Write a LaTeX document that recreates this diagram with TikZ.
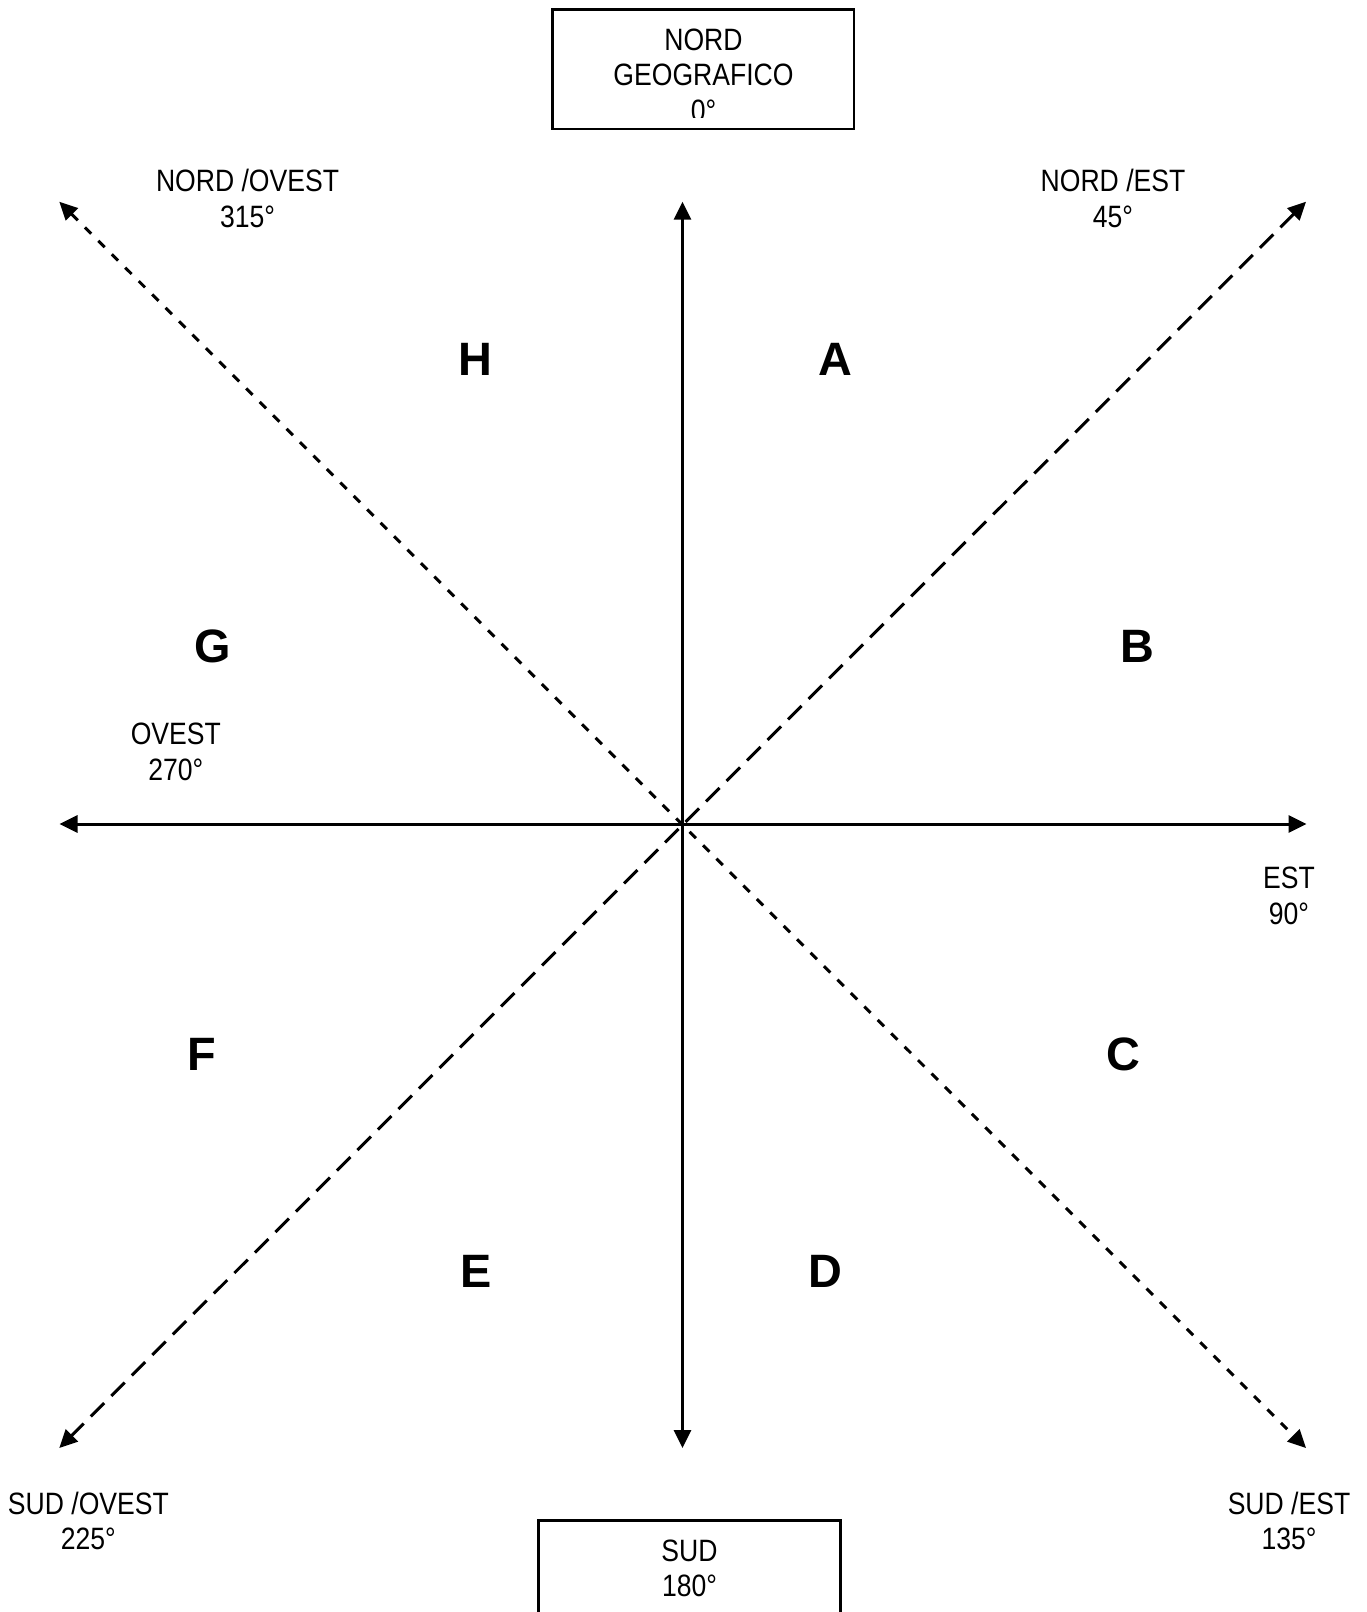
\documentclass[tikz,border=0pt]{standalone}
\usepackage{fontspec}
\setmainfont{Liberation Sans}[FakeStretch=0.86]
\newfontfamily\letterfont{Liberation Sans}
\usetikzlibrary{arrows.meta}
\tikzset{
  tip/.tip={Triangle[length=18bp,width=17bp]},
  axis/.style={line width=3bp, tip-tip},
  shortdash/.style={axis, dash pattern=on 9bp off 10bp},
  longdash/.style={axis, dash pattern=on 19bp off 10bp},
  lbl/.style={anchor=base, align=center, inner sep=0pt, font=\fontsize{31}{35.5}\selectfont},
  sector/.style={anchor=base, inner sep=0pt, font=\letterfont\bfseries\fontsize{47}{47}\selectfont},
  box/.style={draw, line width=2.8bp, inner sep=0pt}
}
\begin{document}
\begin{tikzpicture}[x=1bp,y=-1bp]
\useasboundingbox (0,0) rectangle (1367,1612);
\clip (0,0) rectangle (1367,1612);
% coordinates
\coordinate (O) at (682.5,824);
\coordinate (N) at (682.5,201.7);
\coordinate (S) at (682.5,1448);
\coordinate (E) at (1306.5,824);
\coordinate (W) at (59.5,824);
\coordinate (NE) at (1306,201.7);
\coordinate (NW) at (59.3,201.7);
\coordinate (SE) at (1306,1448);
\coordinate (SW) at (59.3,1448);
% axes
\draw[axis] (N) -- (S);
\draw[axis] (W) -- (E);
\draw[shortdash] (NW) -- (SE);
\draw[longdash] (NE) -- (SW);
% boxes
\node[box, minimum width=301.3bp, minimum height=119.7bp] (topbox) at (703.35,69.2) {};
\node[box, minimum width=302.4bp, minimum height=140bp] (botbox) at (689.5,1590.7) {};
\begin{scope}
\clip (552.7,9.3) rectangle (854,117);
\node[lbl] (nordtxt) at (703.5,121) {NORD\\GEOGRAFICO\\0°};
\end{scope}
\node[lbl] (sudtxt) at (689.5,1596.7) {SUD\\180°};
% direction labels
\node[lbl] (nwtxt) at (247.5,227) {NORD /OVEST\\315°};
\node[lbl] (netxt) at (1113,227) {NORD /EST\\45°};
\node[lbl] (wtxt) at (175.8,780) {OVEST\\270°};
\node[lbl] (etxt) at (1289,924) {EST\\90°};
\node[lbl] (swtxt) at (88.4,1549.6) {SUD /OVEST\\225°};
\node[lbl] (setxt) at (1289,1549.6) {SUD /EST\\135°};
% sectors
\node[sector] (H) at (475.9,375.7) {H};
\node[sector] (A) at (835.6,375.7) {A};
\node[sector] (G) at (212.8,662.5) {G};
\node[sector] (B) at (1137.8,662.5) {B};
\node[sector] (F) at (201.4,1070.5) {F};
\node[sector] (C) at (1123.4,1070.5) {C};
\node[sector] (Ee) at (475.9,1287.4) {E};
\node[sector] (D) at (825.3,1287.4) {D};
\end{tikzpicture}
\end{document}
